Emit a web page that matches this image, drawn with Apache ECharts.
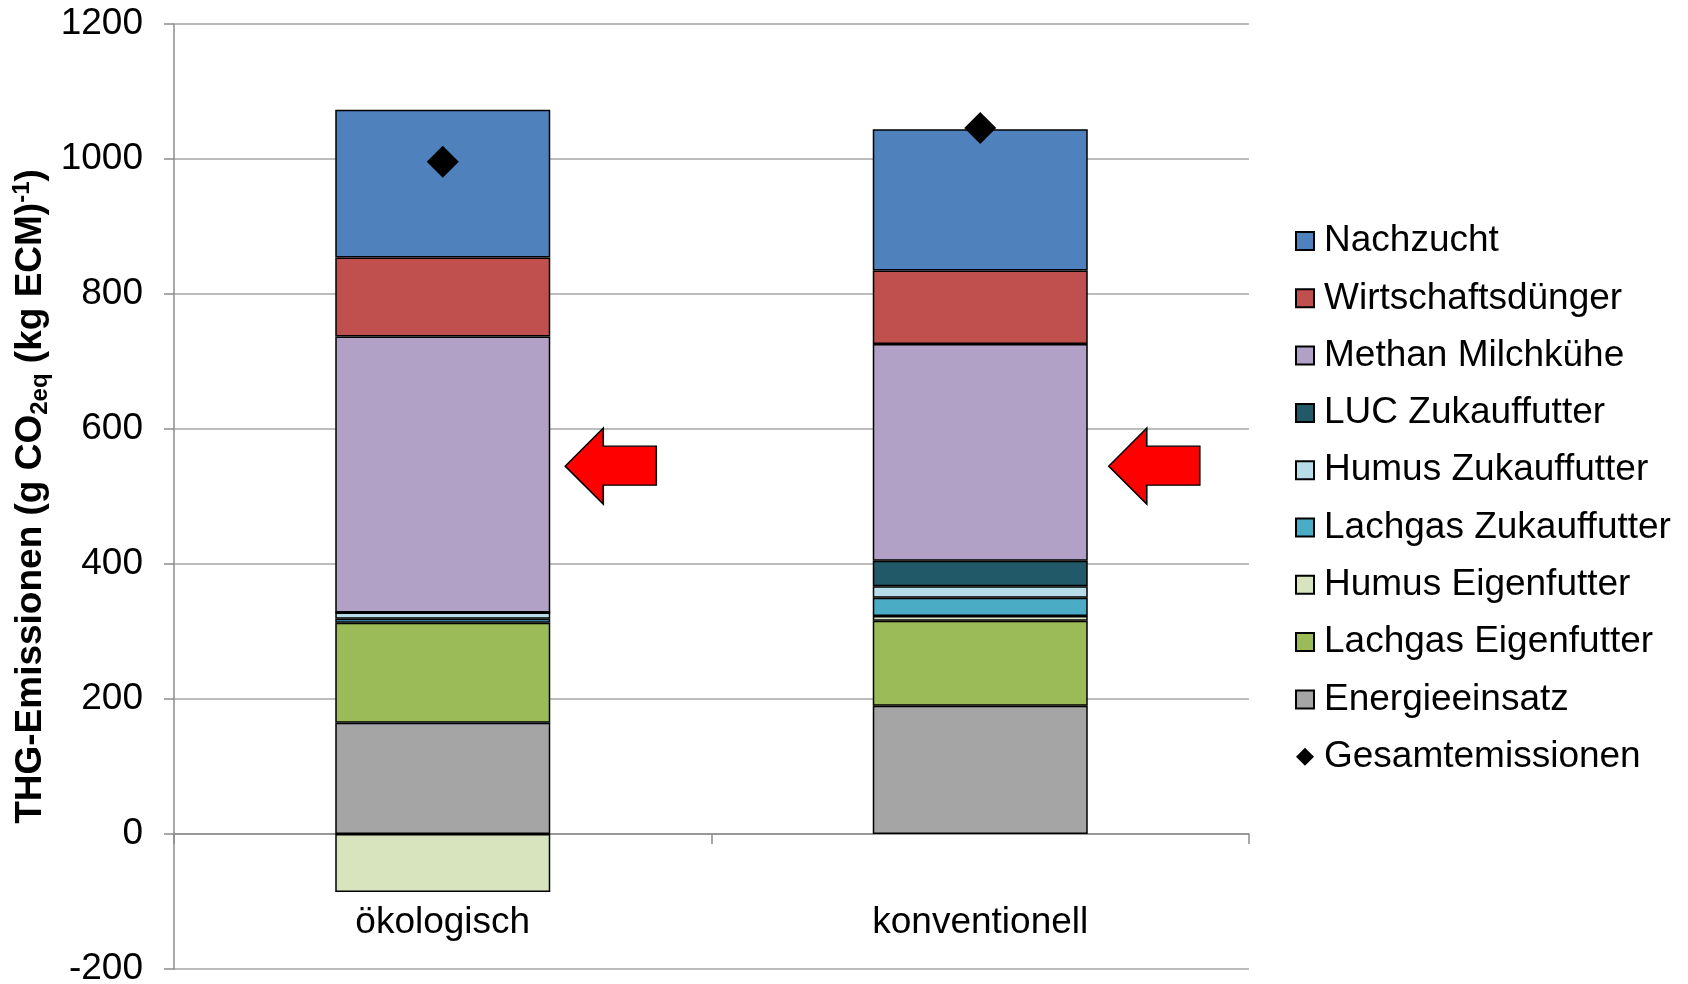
<!DOCTYPE html>
<html>
<head>
<meta charset="utf-8">
<title>THG-Emissionen</title>
<script src="https://cdn.jsdelivr.net/npm/echarts@6/dist/echarts.min.js"></script>
<style>
  html, body { margin: 0; padding: 0; background: #fff; }
  #chart { width: 1688px; height: 984px; }
</style>
</head>
<body>
<div id="chart"></div>
<script>
// Kategorien (Betriebsformen)
const categories = ['ökologisch', 'konventionell'];

// Emissionsquellen in g CO2eq je kg ECM, von unten nach oben gestapelt
const energieeinsatz      = [165, 190];
const lachgasEigenfutter  = [148, 126];
const humusEigenfutter    = [-86, 7];
const lachgasZukauffutter = [6, 27];
const humusZukauffutter   = [9, 17];
const lucZukauffutter     = [0, 38];
const methanMilchkuehe    = [409, 321];
const wirtschaftsduenger  = [117, 109];
const nachzucht           = [219, 209];
const gesamtemissionen    = [996, 1046];

// Markierungspfeile neben den Säulen (Höhe in g CO2eq)
const pfeilHoehe = [545, 545];

// Achsenbeschriftung
const yTicks = { min: -200, max: 1200, interval: 200 };

const FONT = 'Liberation Sans, Arial, sans-serif';

const stackSeries = [
  ['Energieeinsatz', energieeinsatz, '#A5A5A5'],
  ['Lachgas Eigenfutter', lachgasEigenfutter, '#9BBB59'],
  ['Humus Eigenfutter', humusEigenfutter, '#D7E4BD'],
  ['Lachgas Zukauffutter', lachgasZukauffutter, '#4BACC6'],
  ['Humus Zukauffutter', humusZukauffutter, '#B7DEE8'],
  ['LUC Zukauffutter', lucZukauffutter, '#215968'],
  ['Methan Milchkühe', methanMilchkuehe, '#B2A1C7'],
  ['Wirtschaftsdünger', wirtschaftsduenger, '#C0504D'],
  ['Nachzucht', nachzucht, '#4F81BD']
];

const arrowPath = 'path://M0,38 L38,0 L38,18 L91,18 L91,57 L38,57 L38,76 Z';

const series = stackSeries.map(([name, values, color]) => {
  const s = {
    name: name,
    type: 'bar',
    stack: 'thg',
    barWidth: '40%',
    data: values,
    itemStyle: { color: color, borderColor: '#000', borderWidth: 1.5 },
    emphasis: { disabled: true }
  };
  if (name === 'Methan Milchkühe') {
    s.markPoint = {
      symbol: arrowPath,
      symbolSize: [91, 76],
      label: { show: false },
      itemStyle: { color: '#FF0000', borderColor: '#000', borderWidth: 1.5, opacity: 1 },
      data: categories.map((c, i) => ({
        coord: [c, pfeilHoehe[i]],
        symbolOffset: [i === 0 ? 168 : 174, 0]
      }))
    };
  }
  return s;
});

series.push({
  name: 'Gesamtemissionen',
  type: 'scatter',
  symbol: 'diamond',
  symbolSize: 32,
  data: gesamtemissionen,
  itemStyle: { color: '#000', opacity: 1 },
  emphasis: { disabled: true },
  z: 5
});

const legendOrder = stackSeries.map(s => s[0]).reverse().concat(['Gesamtemissionen']);

const chart = echarts.init(document.getElementById('chart'));
chart.setOption({
  animation: false,
  textStyle: { fontFamily: FONT },
  grid: { left: 174, right: 439, top: 24, bottom: 15, containLabel: false, outerBoundsMode: 'none' },
  legend: {
    orient: 'vertical',
    left: 1295,
    top: 221,
    padding: 0,
    itemWidth: 18,
    itemHeight: 18,
    itemGap: 17.3,
    data: legendOrder.map(n => n === 'Gesamtemissionen'
      ? { name: n, icon: 'diamond', itemStyle: { borderWidth: 0, color: '#000', opacity: 1 } }
      : { name: n, icon: 'rect' }),
    textStyle: { fontFamily: FONT, fontSize: 37, color: '#000', lineHeight: 40, padding: [0, 0, 0, 5] }
  },
  xAxis: [
    {
      // Nulllinie mit Kategorietrennern
      type: 'category',
      data: categories,
      axisLine: { onZero: true, lineStyle: { color: '#8C8C8C', width: 1.5 } },
      axisTick: { show: true, length: 10, inside: false, lineStyle: { color: '#8C8C8C', width: 1.5 } },
      axisLabel: { show: false },
      splitLine: { show: false }
    },
    {
      // Kategorienamen unterhalb der Säulen
      type: 'category',
      data: categories,
      position: 'bottom',
      axisLine: { show: false, onZero: false },
      axisTick: { show: false },
      axisLabel: { show: true, inside: true, fontFamily: FONT, fontSize: 37, color: '#000', margin: 28 },
      splitLine: { show: false }
    }
  ],
  yAxis: {
    type: 'value',
    min: yTicks.min,
    max: yTicks.max,
    interval: yTicks.interval,
    axisLine: { show: true, lineStyle: { color: '#8C8C8C', width: 1.5 } },
    axisTick: { show: true, length: 10, lineStyle: { color: '#8C8C8C', width: 1.5 } },
    axisLabel: { fontFamily: FONT, fontSize: 37, color: '#000', margin: 31, formatter: v => String(v) },
    splitLine: { show: true, lineStyle: { color: '#A6A6A6', width: 1.5 } },
    name: '{b|THG-Emissionen (g CO}{sub|2eq}{b| (kg ECM)}{sup|-1}{b|)}',
    nameLocation: 'middle',
    nameGap: 122,
    nameMoveOverlap: false,
    nameTextStyle: {
      rich: {
        b: { fontFamily: FONT, fontSize: 37, fontWeight: 'bold', color: '#000', lineHeight: 42 },
        sub: { fontFamily: FONT, fontSize: 24, fontWeight: 'bold', color: '#000', lineHeight: 42, verticalAlign: 'bottom', padding: [15, 0, 0, 0] },
        sup: { fontFamily: FONT, fontSize: 24, fontWeight: 'bold', color: '#000', lineHeight: 42, verticalAlign: 'top', padding: [0, 0, 15, 0] }
      }
    }
  },
  series: series
});
</script>
</body>
</html>
